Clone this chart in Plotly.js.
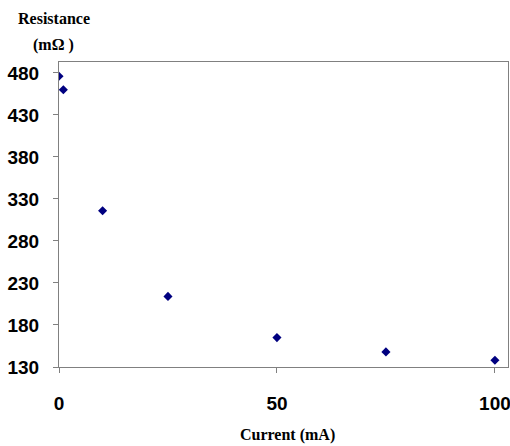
<!DOCTYPE html>
<html><head><meta charset="utf-8">
<script src="https://cdn.plot.ly/plotly-3.0.1.min.js"></script>
<style>body{margin:0;background:#fff}</style>
</head><body>
<div id="chart" style="width:510px;height:446px"></div>
<script>
const currentMA = [0, 1, 10, 25, 50, 75, 100];
const resistanceMOhm = [476, 460, 316, 214, 165, 148, 138];
const yTicks = [130, 180, 230, 280, 330, 380, 430, 480];
const xTicks = [0, 50, 100];

const tickFont = {family: 'Liberation Sans, Arial, sans-serif', size: 19, color: '#000'};
const titleFont = {family: 'Liberation Serif, Times New Roman, serif', size: 16, color: '#000'};

Plotly.newPlot('chart', [{
  x: currentMA, y: resistanceMOhm, type: 'scatter', mode: 'markers',
  marker: {symbol: 'diamond', size: 7, color: '#000080'}
}], {
  width: 510, height: 446,
  margin: {l: 59, r: 2, t: 62, b: 79},
  paper_bgcolor: '#fff', plot_bgcolor: '#fff',
  showlegend: false,
  xaxis: {
    range: [0, 103], tickvals: xTicks, ticktext: xTicks.map(v => '<b>' + v + '</b>'),
    tickfont: tickFont, ticks: 'outside', ticklen: 5, tickcolor: '#808080',
    ticklabelstandoff: 14, ticklabeloverflow: 'allow',
    showline: true, linecolor: '#808080', linewidth: 1, mirror: true,
    showgrid: false, zeroline: false
  },
  yaxis: {
    range: [130, 493], tickvals: yTicks, ticktext: yTicks.map(v => '<b>' + v + '</b>'),
    tickfont: tickFont, ticks: 'outside', ticklen: 5, tickcolor: '#808080',
    ticklabelstandoff: 10,
    showline: true, linecolor: '#808080', linewidth: 1, mirror: true,
    showgrid: false, zeroline: false
  },
  annotations: [
    {text: '<b>Resistance</b>', xref: 'paper', yref: 'paper', x: -0.011, y: 1.144, xanchor: 'center', yanchor: 'middle', showarrow: false, font: titleFont},
    {text: '<b>(mΩ )</b>', xref: 'paper', yref: 'paper', x: -0.013, y: 1.056, xanchor: 'center', yanchor: 'middle', showarrow: false, font: titleFont},
    {text: '<b>Current (mA)</b>', xref: 'paper', yref: 'paper', x: 0.51, y: -0.223, xanchor: 'center', yanchor: 'middle', showarrow: false, font: titleFont}
  ]
}, {displayModeBar: false});
</script>
</body></html>
